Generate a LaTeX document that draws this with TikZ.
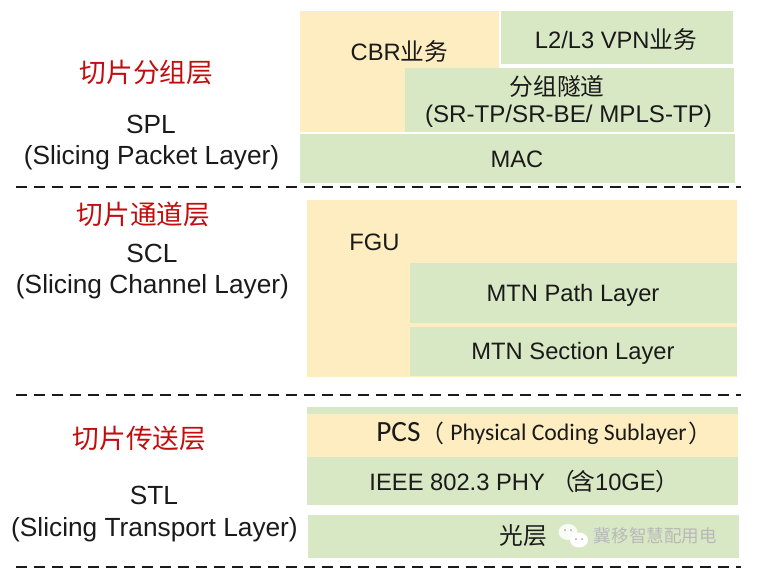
\documentclass[tikz,border=0pt]{standalone}
\usepackage{fontspec}
\setmainfont{Liberation Sans}
\newfontfamily\cjk{Noto Sans CJK SC}
\newfontfamily\carl{Carlito}
\definecolor{lgreen}{HTML}{D9E8C4}
\definecolor{lyellow}{HTML}{FDEDC0}
\definecolor{lred}{HTML}{C00D0D}
\definecolor{ink}{HTML}{1A1A1A}
\tikzset{
  blockbox/.style={draw=none,inner sep=0pt,outer sep=0pt,anchor=north west},
  txt/.style={text=ink,font=\fontsize{17.8}{22}\selectfont,inner sep=0pt,align=center},
  side/.style={text=ink,font=\fontsize{19.7}{24}\selectfont,inner sep=0pt,align=center},
  head/.style={text=lred,font=\cjk\fontsize{20}{24}\selectfont,inner sep=0pt},
  sep/.style={draw=ink,line width=1pt,dash pattern=on 8.5pt off 5pt},
}
\newcommand{\blk}[6]{\node[blockbox,fill=#6,minimum width=#4*0.75pt-#2*0.75pt,minimum height=#5*0.75pt-#3*0.75pt] (#1) at (#2,#3) {};}
\begin{document}
\begin{tikzpicture}[x=0.75pt,y=-0.75pt]
\useasboundingbox (0,0) rectangle (761,586);
% top group
\blk{cbr}{300}{11}{499}{132}{lyellow}
\blk{vpn}{501}{11}{733}{64}{lgreen}
\blk{tun}{405}{68}{734}{132}{lgreen}
\blk{mac}{300}{134}{735}{183}{lgreen}
% middle group
\blk{fgu}{307}{200}{737}{377}{lyellow}
\blk{path}{410}{263}{737}{323}{lgreen}
\blk{sect}{410}{327}{737}{376}{lgreen}
% bottom group
\blk{phytop}{307}{407}{738}{414}{lgreen}
\blk{pcs}{307}{414}{738}{457}{lyellow}
\blk{phy}{307}{457}{738}{505}{lgreen}
\blk{opt}{308}{515}{739}{558}{lgreen}
% separators
\coordinate (s1a) at (16,187); \coordinate (s1b) at (741,187);
\coordinate (s2a) at (16,395); \coordinate (s2b) at (741,395);
\coordinate (s3a) at (16,567); \coordinate (s3b) at (741,567);
\draw[sep] (s1a) -- (s1b);
\draw[sep] (s2a) -- (s2b);
\draw[sep] (s3a) -- (s3b);
% block labels
\node[txt] (tcbr) at (399.5,51) {CBR{\cjk 业务}};
\node[txt] (tvpn) at (616,39) {L2/L3 VPN{\cjk 业务}};
\node[txt] (ttun1) at (557,86) {{\cjk 分组隧道}};
\node[txt,font=\fontsize{18.1}{22}\selectfont] (ttun2) at (568.5,116) {(SR-TP/SR-BE/ MPLS-TP)};
\node[txt] (tmac) at (517,159) {MAC};
\node[txt] (tfgu) at (374.5,242) {FGU};
\node[txt] (tpath) at (573,295) {MTN Path Layer};
\node[txt] (tsect) at (573,353) {MTN Section Layer};
\node[txt,anchor=west,font=\carl\fontsize{22}{24}\selectfont] (tpcs) at (376,432) {PCS};
\node[txt,anchor=west,font=\carl\fontsize{17.8}{20}\selectfont] (tpcs2) at (450,434) {Physical Coding Sublayer};
\node[txt,font=\cjk\fontsize{18}{22}\selectfont] (tpcsl) at (432,433) {（};
\node[txt,font=\cjk\fontsize{18}{22}\selectfont] (tpcsr) at (700,433) {）};
\node[txt] (tphy) at (524.5,481) {IEEE 802.3 PHY\hspace{5pt}{\cjk （\hspace{-3pt}含}10GE{\cjk ）}};
\node[txt] (topt) at (523,536) {{\cjk 光层}};
% watermark
\fill[white,opacity=.85] (568,532) ellipse (9.5 and 8);
\fill[white] (579,540) ellipse (9 and 7.5);
\fill[black!35] (565,530) circle (1) (571,530) circle (1) (576,539) circle (1) (582,539) circle (1);
\node[inner sep=0pt,text=black!28,font=\cjk\fontsize{13.2}{16}\selectfont] (wm) at (655.5,536) {冀移智慧配用电};
% left labels
\node[head] (h1) at (146.5,72) {切片分组层};
\node[side] (h1a) at (151,124) {SPL};
\node[side] (h1b) at (151.5,158) {(Slicing Packet Layer)};
\node[head] (h2) at (143.5,214) {切片通道层};
\node[side] (h2a) at (152,253) {SCL};
\node[side] (h2b) at (152.5,287) {(Slicing Channel Layer)};
\node[head] (h3) at (139.5,438) {切片传送层};
\node[side] (h3a) at (154,495) {STL};
\node[side] (h3b) at (154.5,530) {(Slicing Transport Layer)};
\end{tikzpicture}
\end{document}
